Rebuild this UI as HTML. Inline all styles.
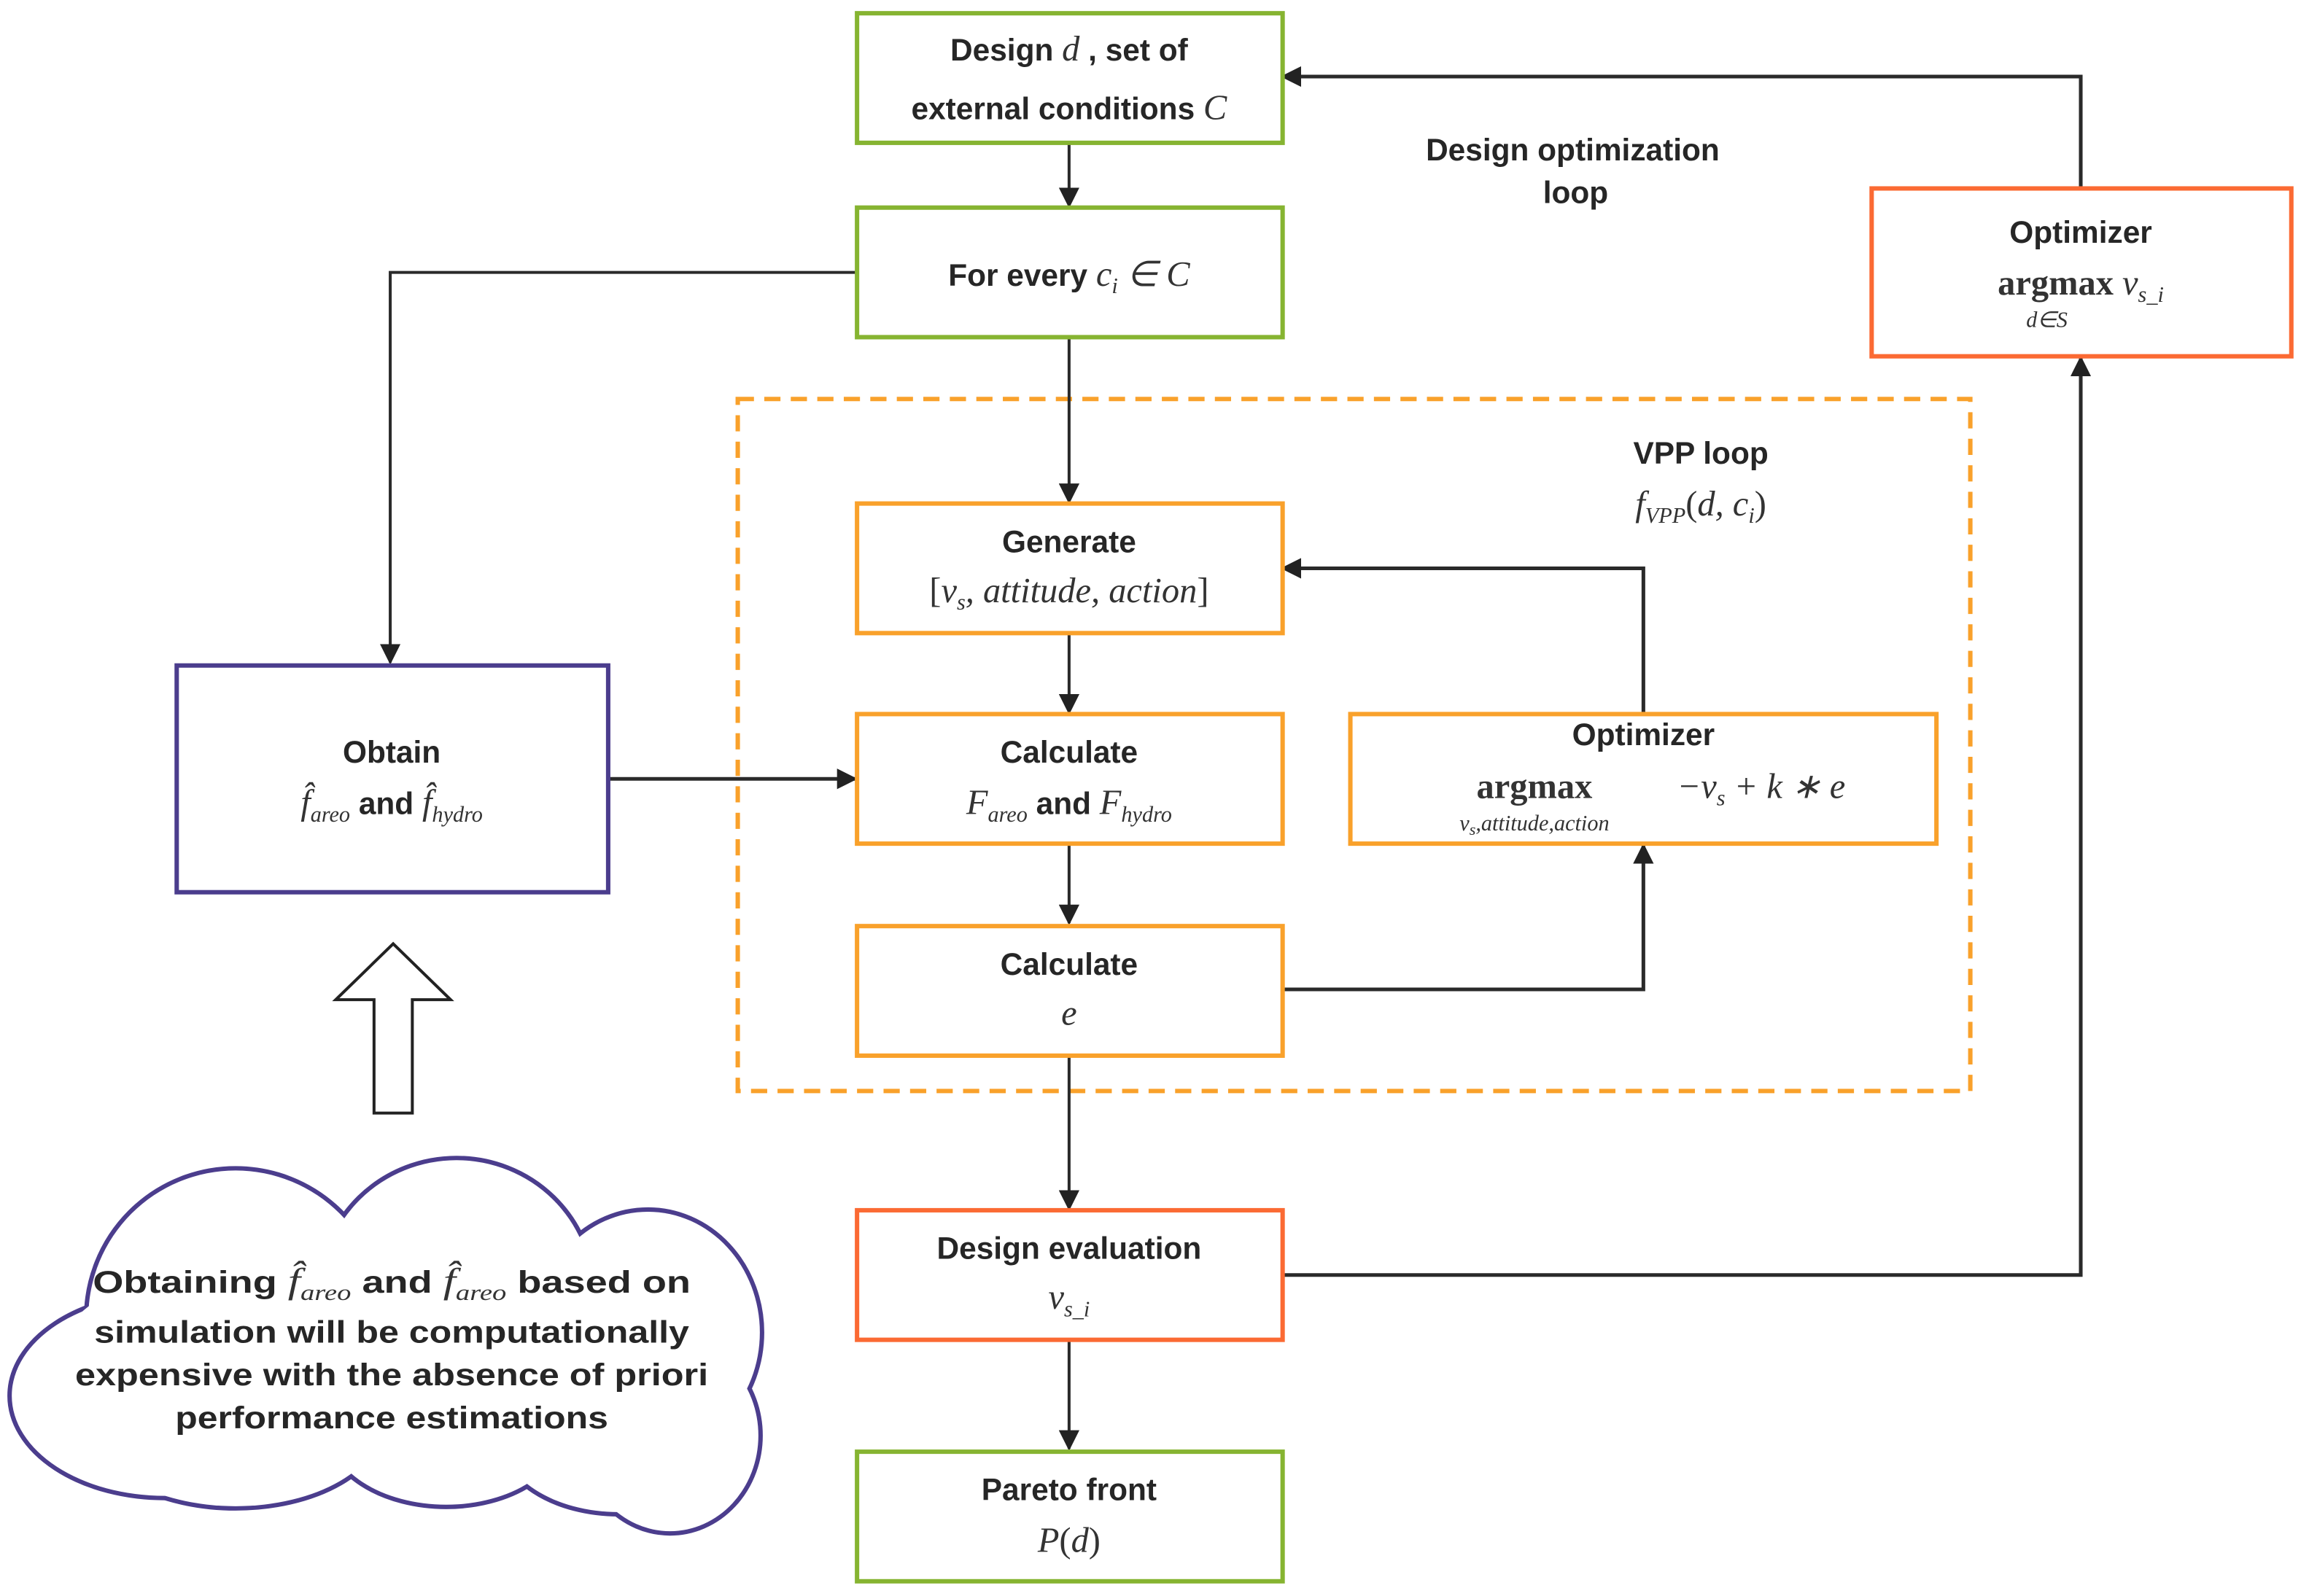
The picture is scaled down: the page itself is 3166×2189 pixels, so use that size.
<!DOCTYPE html>
<html><head><meta charset="utf-8"><style>
html,body{margin:0;padding:0;background:#fff;}
svg{display:block;}
.b{font-family:"Liberation Sans",sans-serif;font-weight:bold;font-size:21px;fill:#262626;}
.m{font-family:"Liberation Serif",serif;font-style:italic;font-weight:normal;font-size:24px;fill:#333;}
.s{font-size:15px;}
</style></head><body>
<svg width="3166" height="2189" viewBox="0 0 1568 1084" preserveAspectRatio="none" xmlns="http://www.w3.org/2000/svg">
<defs>
<marker id="A" viewBox="0 0 10 10" markerWidth="14" markerHeight="14" refX="9" refY="5" orient="auto" markerUnits="userSpaceOnUse"><path d="M0,0 L10,5 L0,10 z" fill="#222"/></marker>
</defs>
<rect width="1568" height="1084" fill="#fff"/>
<rect x="501" y="271" width="837" height="470" fill="none" stroke="#f9a12b" stroke-width="3" stroke-dasharray="11,7"/>
<g stroke="#2a2a2a" stroke-width="2" fill="none">
<line x1="726" y1="97" x2="726" y2="140" marker-end="url(#A)"/>
<polyline points="582,185 265,185 265,450" marker-end="url(#A)"/>
<line x1="726" y1="229" x2="726" y2="341" marker-end="url(#A)"/>
<line x1="726" y1="430" x2="726" y2="484" marker-end="url(#A)"/>
<line x1="413" y1="529" x2="581" y2="529" stroke-width="2.5" marker-end="url(#A)"/>
<line x1="726" y1="573" x2="726" y2="627" marker-end="url(#A)"/>
<line x1="726" y1="717" x2="726" y2="821" marker-end="url(#A)"/>
<line x1="726" y1="910" x2="726" y2="984" marker-end="url(#A)"/>
<polyline points="1116,485 1116,386 871,386" stroke-width="2.5" marker-end="url(#A)"/>
<polyline points="871,672 1116,672 1116,574" stroke-width="2.5" marker-end="url(#A)"/>
<polyline points="871,866 1413,866 1413,243" stroke-width="2.5" marker-end="url(#A)"/>
<polyline points="1413,128 1413,52 871,52" stroke-width="2.5" marker-end="url(#A)"/>
</g>
<g fill="#fff" stroke-width="3">
<rect x="582" y="9" width="289" height="88" stroke="#86b431"/>
<rect x="582" y="141" width="289" height="88" stroke="#86b431"/>
<rect x="582" y="342" width="289" height="88" stroke="#f9a12b"/>
<rect x="582" y="485" width="289" height="88" stroke="#f9a12b"/>
<rect x="917" y="485" width="398" height="88" stroke="#f9a12b"/>
<rect x="582" y="629" width="289" height="88" stroke="#f9a12b"/>
<rect x="582" y="822" width="289" height="88" stroke="#fb6a33"/>
<rect x="582" y="986" width="289" height="88" stroke="#86b431"/>
<rect x="1271" y="128" width="285" height="114" stroke="#fb6a33"/>
<rect x="120" y="452" width="293" height="154" stroke="#4b3d8d"/>
</g>
<path d="M267,641 L306,679 L280,679 L280,756 L254,756 L254,679 L228,679 Z" fill="#fff" stroke="#222" stroke-width="2"/>
<g stroke="#4b3d8d" stroke-width="6" fill="none">
<ellipse cx="160" cy="895" rx="100" ry="100"/>
<ellipse cx="310" cy="878" rx="92" ry="90"/>
<ellipse cx="440" cy="905" rx="76" ry="82"/>
<ellipse cx="112" cy="948" rx="104" ry="68"/>
<ellipse cx="455" cy="975" rx="60" ry="65"/>
<ellipse cx="160" cy="965" rx="100" ry="58"/>
<ellipse cx="303" cy="970" rx="80" ry="52"/>
<ellipse cx="420" cy="975" rx="80" ry="52"/>
</g>
<g fill="#fff">
<ellipse cx="160" cy="895" rx="100" ry="100"/>
<ellipse cx="310" cy="878" rx="92" ry="90"/>
<ellipse cx="440" cy="905" rx="76" ry="82"/>
<ellipse cx="112" cy="948" rx="104" ry="68"/>
<ellipse cx="455" cy="975" rx="60" ry="65"/>
<ellipse cx="160" cy="965" rx="100" ry="58"/>
<ellipse cx="303" cy="970" rx="80" ry="52"/>
<ellipse cx="420" cy="975" rx="80" ry="52"/>
<ellipse cx="270" cy="920" rx="230" ry="80"/>
</g>
<g text-anchor="middle">
<text class="b" x="726" y="41">Design <tspan class="m">d</tspan> , set of</text>
<text class="b" x="726" y="81">external conditions <tspan class="m">C</tspan></text>
<text class="b" x="726" y="194">For every <tspan class="m">c<tspan class="s" dy="5">i</tspan><tspan dy="-5"> ∈ C</tspan></tspan></text>
<text class="b" x="1068" y="109">Design optimization</text>
<text class="b" x="1070" y="138">loop</text>
<text class="b" x="1155" y="315">VPP loop</text>
<text class="m" x="1155" y="350">f<tspan class="s" dy="5">VPP</tspan><tspan dy="-5" style="font-style:normal">(</tspan>d, c<tspan class="s" dy="5">i</tspan><tspan dy="-5" style="font-style:normal">)</tspan></text>
<text class="b" x="726" y="375">Generate</text>
<text class="m" x="726" y="409"><tspan style="font-style:normal">[</tspan>v<tspan class="s" dy="5">s</tspan><tspan dy="-5">, attitude, action</tspan><tspan style="font-style:normal">]</tspan></text>
<text class="b" x="726" y="518">Calculate</text>
<text class="b" x="726" y="553"><tspan class="m">F<tspan class="s" dy="5">areo</tspan></tspan><tspan dy="-5"> and </tspan><tspan class="m">F<tspan class="s" dy="5">hydro</tspan></tspan></text>
<text class="b" x="266" y="518">Obtain</text>
<text class="b" x="266" y="553"><tspan class="m">f̂<tspan class="s" dy="5">areo</tspan></tspan><tspan dy="-5"> and </tspan><tspan class="m">f̂<tspan class="s" dy="5">hydro</tspan></tspan></text>
<text class="b" x="1116" y="506">Optimizer</text>
<text x="1042" y="542" style="font-family:'Liberation Serif',serif;font-weight:bold;font-size:24px;fill:#333">argmax</text>
<text class="m" x="1196" y="542">−v<tspan class="s" dy="5">s</tspan><tspan dy="-5"> + k ∗ e</tspan></text>
<text class="m" x="1042" y="564" style="font-size:15px">v<tspan dy="3" style="font-size:11px">s</tspan><tspan dy="-3">,attitude,action</tspan></text>
<text class="b" x="726" y="662">Calculate</text>
<text class="m" x="726" y="696">e</text>
<text class="b" x="726" y="855">Design evaluation</text>
<text class="m" x="726" y="889">v<tspan class="s" dy="5">s_i</tspan></text>
<text class="b" x="726" y="1019">Pareto front</text>
<text class="m" x="726" y="1054">P<tspan style="font-style:normal">(</tspan>d<tspan style="font-style:normal">)</tspan></text>
<text class="b" x="1413" y="165">Optimizer</text>
<text x="1413" y="200"><tspan style="font-family:'Liberation Serif',serif;font-weight:bold;font-size:24px;fill:#333">argmax </tspan><tspan class="m">v<tspan class="s" dy="5">s_i</tspan></tspan></text>
<text class="m" x="1390" y="222" style="font-size:15px">d∈S</text>
<text class="b" x="266" y="878" textLength="406" lengthAdjust="spacingAndGlyphs">Obtaining <tspan class="m">f̂<tspan class="s" dy="5">areo</tspan></tspan><tspan dy="-5"> and </tspan><tspan class="m">f̂<tspan class="s" dy="5">areo</tspan></tspan><tspan dy="-5"> based on</tspan></text>
<text class="b" x="266" y="912" textLength="404" lengthAdjust="spacingAndGlyphs">simulation will be computationally</text>
<text class="b" x="266" y="941" textLength="430" lengthAdjust="spacingAndGlyphs">expensive  with the absence of priori</text>
<text class="b" x="266" y="970" textLength="294" lengthAdjust="spacingAndGlyphs">performance estimations</text>
</g>
</svg>
</body></html>
